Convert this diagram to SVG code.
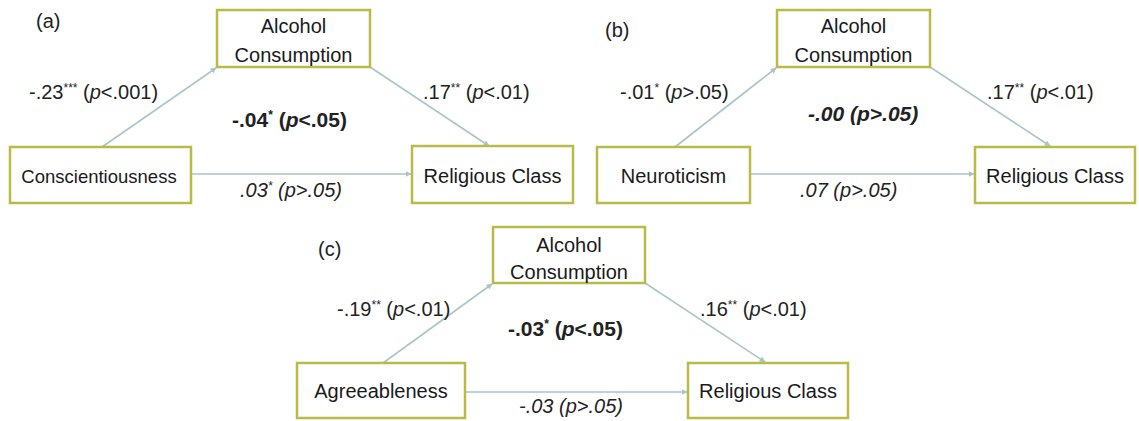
<svg xmlns="http://www.w3.org/2000/svg" width="1139" height="421" viewBox="0 0 1139 421">
<style>
.box{fill:#fff;stroke:#BABA48;stroke-width:2.5}
.nt{font-family:"Liberation Sans",Arial,sans-serif;font-size:20px;fill:#1a1a1a;text-anchor:middle}
.lb{font-family:"Liberation Sans",Arial,sans-serif;font-size:20px;fill:#222}
.b{font-weight:bold}
.i{font-style:italic}
.sup{font-size:12px}
.con{stroke:#A9C5C8;stroke-width:1.6;fill:none;marker-end:url(#ah)}
</style>
<defs>
<marker id="ah" viewBox="0 0 10 10" refX="9" refY="5" markerWidth="6" markerHeight="6" orient="auto" markerUnits="userSpaceOnUse">
<path d="M0,0 L10,5 L0,10 z" fill="#A9C5C8"/>
</marker>
</defs>
<rect width="1139" height="421" fill="#fff"/>
<g id="connectors">
<line class="con" x1="102" y1="147" x2="216" y2="68"/>
<line class="con" x1="370" y1="67" x2="489" y2="146"/>
<line class="con" x1="191" y1="174" x2="411" y2="174"/>
<line class="con" x1="675" y1="147" x2="776" y2="68"/>
<line class="con" x1="930" y1="67" x2="1050" y2="146"/>
<line class="con" x1="750" y1="174" x2="974" y2="174"/>
<line class="con" x1="383" y1="363" x2="492" y2="284"/>
<line class="con" x1="645" y1="283" x2="765" y2="362"/>
<line class="con" x1="465" y1="392" x2="687" y2="392"/>
</g>
<g id="a-alcohol"><rect class="box" x="217" y="10" width="153" height="57"/><text class="nt" x="293.5" y="33">Alcohol</text><text class="nt" x="293.5" y="62">Consumption</text></g>
<g id="a-conscientiousness"><rect class="box" x="10" y="147" width="181" height="56"/><text class="nt" x="99" y="183" style="font-size:18.5px">Conscientiousness</text></g>
<g id="a-religious"><rect class="box" x="412" y="146" width="161" height="57"/><text class="nt" x="492.5" y="183">Religious Class</text></g>
<g id="b-alcohol"><rect class="box" x="777" y="10" width="153" height="57"/><text class="nt" x="853.5" y="33">Alcohol</text><text class="nt" x="853.5" y="62">Consumption</text></g>
<g id="b-neuroticism"><rect class="box" x="597" y="147" width="153" height="56"/><text class="nt" x="673.5" y="183">Neuroticism</text></g>
<g id="b-religious"><rect class="box" x="975" y="147" width="160" height="56"/><text class="nt" x="1055" y="183">Religious Class</text></g>
<g id="c-alcohol"><rect class="box" x="493" y="227" width="152" height="56"/><text class="nt" x="569" y="252">Alcohol</text><text class="nt" x="569" y="279">Consumption</text></g>
<g id="c-agreeableness"><rect class="box" x="297" y="363" width="168" height="55"/><text class="nt" x="381" y="398">Agreeableness</text></g>
<g id="c-religious"><rect class="box" x="688" y="363" width="160" height="55"/><text class="nt" x="768" y="398">Religious Class</text></g>
<g id="labels">
<text class="lb" x="36" y="28">(a)</text>
<text class="lb" x="29" y="99">-.23<tspan class="sup" dy="-7">***</tspan><tspan dy="7"> (</tspan><tspan class="i">p</tspan>&lt;.001)</text>
<text class="lb b" x="232" y="127" style="font-size:21px">-.04<tspan class="sup" dy="-8">*</tspan><tspan dy="8"> (</tspan><tspan class="i">p</tspan>&lt;.05)</text>
<text class="lb" x="423" y="99">.17<tspan class="sup" dy="-7">**</tspan><tspan dy="7"> (</tspan><tspan class="i">p</tspan>&lt;.01)</text>
<text class="lb i" x="240" y="197">.03<tspan class="sup" dy="-7">*</tspan><tspan dy="7"> (p&gt;.05)</tspan></text>
<text class="lb" x="605" y="37">(b)</text>
<text class="lb" x="620" y="99">-.01<tspan class="sup" dy="-7">*</tspan><tspan dy="7"> (</tspan><tspan class="i">p</tspan>&gt;.05)</text>
<text class="lb b i" x="808" y="121" style="font-size:21px">-.00 (p&gt;.05)</text>
<text class="lb" x="987" y="99">.17<tspan class="sup" dy="-7">**</tspan><tspan dy="7"> (</tspan><tspan class="i">p</tspan>&lt;.01)</text>
<text class="lb i" x="800" y="197">.07  (p&gt;.05)</text>
<text class="lb" x="318" y="256">(c)</text>
<text class="lb" x="337" y="316">-.19<tspan class="sup" dy="-7">**</tspan><tspan dy="7"> (</tspan><tspan class="i">p</tspan>&lt;.01)</text>
<text class="lb b" x="508" y="336" style="font-size:21px">-.03<tspan class="sup" dy="-8">*</tspan><tspan dy="8"> (</tspan><tspan class="i">p</tspan>&lt;.05)</text>
<text class="lb" x="700" y="316">.16<tspan class="sup" dy="-7">**</tspan><tspan dy="7"> (</tspan><tspan class="i">p</tspan>&lt;.01)</text>
<text class="lb i" x="519" y="413">-.03 (p&gt;.05)</text>
</g>
</svg>
